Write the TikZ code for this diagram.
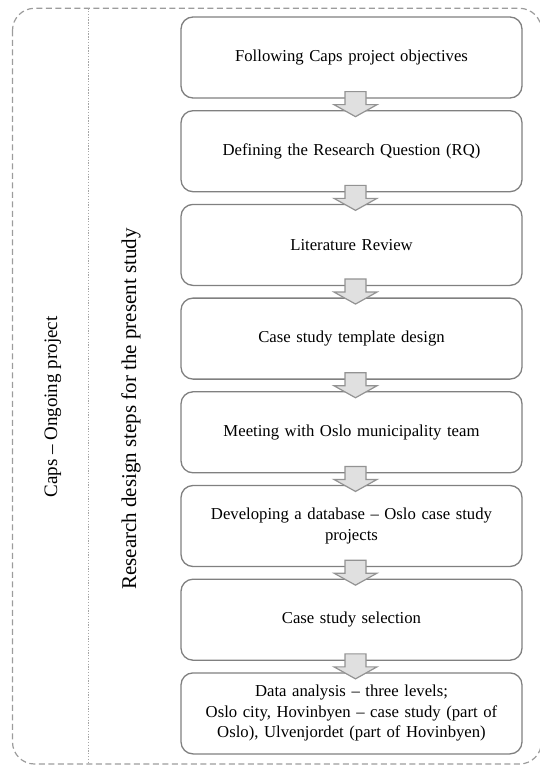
\documentclass[tikz,border=0pt]{standalone}
\usepackage{fontspec}
\setmainfont{Liberation Serif}
\usetikzlibrary{calc}
\definecolor{boxline}{HTML}{808080}
\definecolor{arrowfill}{HTML}{E0E0E0}
\definecolor{arrowline}{HTML}{939393}
\definecolor{frameline}{HTML}{9C9C9C}
\definecolor{divline}{HTML}{A6A6A6}
\begin{document}
\begin{tikzpicture}[x=1pt,y=-1pt,
  stepbox/.style={draw=boxline, line width=1.3pt, rounded corners=12pt, fill=white,
    minimum width=341pt, minimum height=81pt, text width=325pt, align=center,
    inner sep=0pt, font=\fontsize{16.7}{20.5}\selectfont},
  flowarrow/.style={draw=arrowline, fill=arrowfill, line width=1.2pt, line join=miter},
  outerframe/.style={draw=frameline, line width=1.2pt, dash pattern=on 6pt off 3.5pt, rounded corners=22pt},
  divider/.style={draw=divline, line width=1pt, dash pattern=on 1.3pt off 1.5pt},
  sidelabel/.style={rotate=90, inner sep=0pt}]
  \useasboundingbox (0,0) rectangle (540,765);

  % outer frame of the ongoing project and the divider between the two bands
  \draw[outerframe] (12.5,8.3) rectangle (541.5,764);
  \coordinate (divtop) at (88.3,8.3);
  \coordinate (divbot) at (88.3,764);
  \draw[divider] (divtop) -- (divbot);

  % band labels
  \node[sidelabel, font=\fontsize{19}{23}\selectfont] (caps) at (53,407) {Caps – Ongoing project};
  \node[sidelabel, font=\fontsize{21}{25}\selectfont] (steps) at (131,409) {Research design steps for the present study};

  % research steps
  \node[stepbox] (b1) at (351.5,57.5) {Following Caps project objectives};
  \node[stepbox] (b2) at (351.5,151.2) {Defining the Research Question (RQ)};
  \node[stepbox] (b3) at (351.5,244.9) {Literature Review};
  \node[stepbox] (b4) at (351.5,338.6) {Case study template design};
  \node[stepbox] (b5) at (351.5,432.3) {Meeting with Oslo municipality team};
  \node[stepbox] (b6) at (351.5,526) {Developing a database – Oslo case study\\projects};
  \node[stepbox] (b7) at (351.5,619.7) {Case study selection};
  \node[stepbox] (b8) at (351.5,713.4) {Data analysis – three levels;\\Oslo city, Hovinbyen – case study (part of\\Oslo), Ulvenjordet (part of Hovinbyen)};

  % block arrows between consecutive steps
  \foreach \i in {1,...,7} {
    \draw[flowarrow] ($(b\i.south)+(-6.5,-7)$) -- ++(21,0) -- ++(0,13) -- ++(11,0)
      -- ++(-21.5,12) -- ++(-21.5,-12) -- ++(11,0) -- cycle;
  }
\end{tikzpicture}
\end{document}
